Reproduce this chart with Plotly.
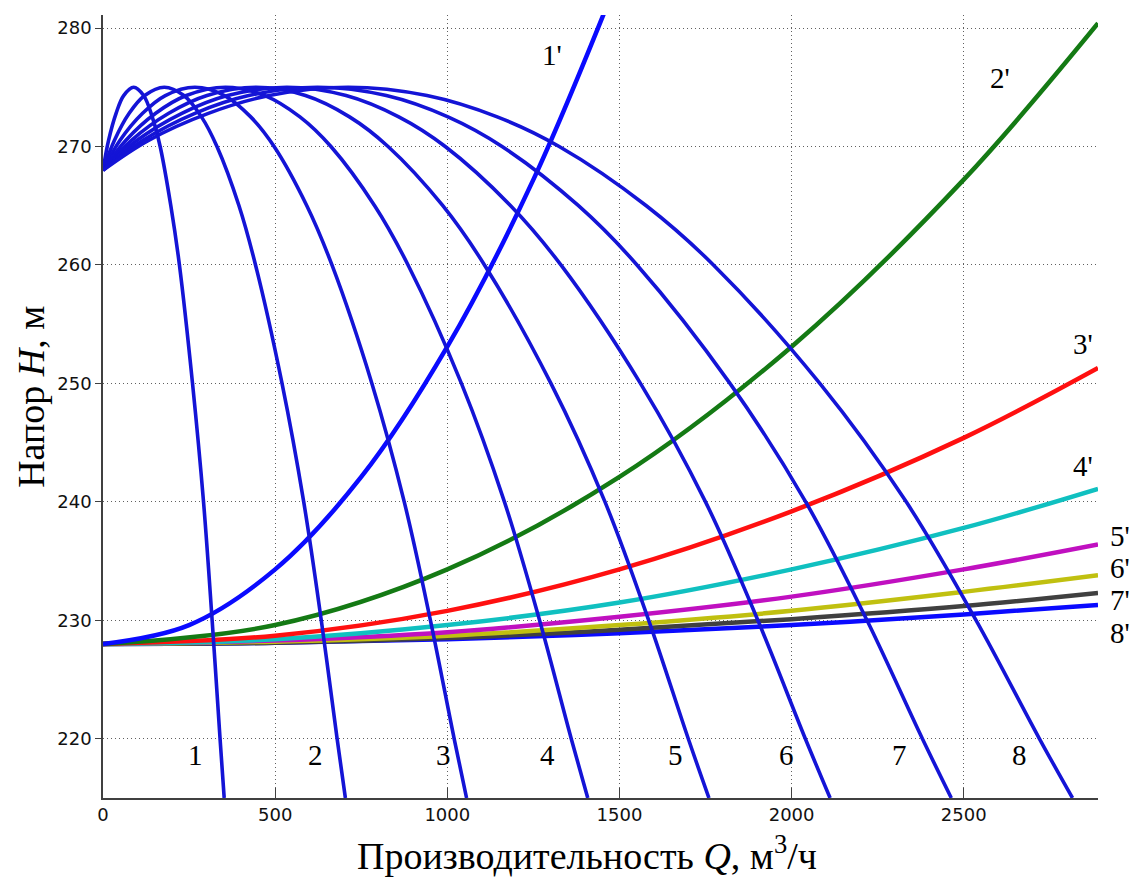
import plotly.graph_objects as go

# ---------------- data ----------------
# pump head curves 1..8 (shared head levels, flow values per curve)
H_pump = [268.0, 270.5, 272.8, 274.3, 275.0, 274.3, 272.5, 270.0, 265.0, 260.0, 250.0, 240.0, 230.0, 220.0, 215.0]
Q_pump_1 = [0, 16, 38, 60, 89, 118, 143, 166, 197, 222, 260, 292, 317, 340, 352]
Q_pump_2 = [0, 33, 76, 121, 178, 235, 286, 331, 395, 443, 520, 583, 634, 680, 704]
Q_pump_3 = [0, 49, 115, 181, 267, 353, 429, 497, 592, 665, 781, 875, 951, 1020, 1056]
Q_pump_4 = [0, 66, 153, 242, 356, 470, 572, 662, 789, 886, 1041, 1166, 1268, 1360, 1408]
Q_pump_5 = [0, 82, 191, 302, 445, 588, 716, 828, 987, 1108, 1301, 1458, 1585, 1700, 1760]
Q_pump_6 = [0, 98, 229, 362, 534, 706, 859, 994, 1184, 1330, 1561, 1750, 1902, 2040, 2112]
Q_pump_7 = [0, 115, 267, 423, 623, 823, 1002, 1159, 1381, 1551, 1821, 2041, 2219, 2380, 2464]
Q_pump_8 = [0, 131, 306, 483, 712, 941, 1145, 1325, 1578, 1773, 2082, 2333, 2536, 2720, 2816]
pump_labels = ["1", "2", "3", "4", "5", "6", "7", "8"]
pump_label_Q = [268, 617, 989, 1290, 1662, 1986, 2313, 2662]
pump_label_H = 218.65

# system (network) curves 1'..8'
Q_sys_1 = [0, 250, 500, 750, 1000, 1250, 1500]
H_sys_1 = [228.0, 229.6, 234.3, 242.1, 253.1, 267.2, 284.5]
Q_sys = [0, 500, 1000, 1500, 2000, 2500, 2890]
H_sys_2 = [228.0, 229.6, 234.3, 242.1, 253.1, 267.2, 280.4]
H_sys_3 = [228.0, 228.7, 230.8, 234.3, 239.2, 245.4, 251.3]
H_sys_4 = [228.0, 228.4, 229.6, 231.5, 234.3, 237.8, 241.1]
H_sys_5 = [228.0, 228.3, 229.0, 230.3, 232.0, 234.3, 236.4]
H_sys_6 = [228.0, 228.2, 228.7, 229.6, 230.8, 232.4, 233.8]
H_sys_7 = [228.0, 228.1, 228.5, 229.2, 230.1, 231.2, 232.3]
H_sys_8 = [228.0, 228.1, 228.4, 228.9, 229.6, 230.5, 231.3]
sys_labels = ["1'", "2'", "3'", "4'", "5'", "6'", "7'", "8'"]
sys_label_Q = [1304, 2606, 2846, 2846, 2955, 2955, 2955, 2955]
sys_label_H = [277.75, 275.8, 253.3, 243.0, 237.1, 234.4, 231.7, 228.9]

x_ticks = [0, 500, 1000, 1500, 2000, 2500]
y_ticks = [220, 230, 240, 250, 260, 270, 280]
x_range = [0, 2890]
y_range = [215, 281.1]

# ---------------- figure ----------------
fig = go.Figure()

sys_colors = ["#0a0aff", "#147a14", "#ff1010", "#10c0c0", "#c010c0", "#c0c010", "#404040", "#0a0aff"]
sys_series = [(Q_sys_1, H_sys_1)] + [(Q_sys, h) for h in
              [H_sys_2, H_sys_3, H_sys_4, H_sys_5, H_sys_6, H_sys_7, H_sys_8]]

# draw from 8' up to 1'
for i in reversed(range(8)):
    q, h = sys_series[i]
    fig.add_trace(go.Scatter(x=q, y=h, mode="lines",
                             line=dict(color=sys_colors[i], width=4.5, shape="spline"),
                             hoverinfo="skip"))

pump_Q = [Q_pump_1, Q_pump_2, Q_pump_3, Q_pump_4, Q_pump_5, Q_pump_6, Q_pump_7, Q_pump_8]
for q in pump_Q:
    fig.add_trace(go.Scatter(x=q, y=H_pump, mode="lines",
                             line=dict(color="#1414d6", width=3.6, shape="spline"),
                             hoverinfo="skip"))

serif = "Liberation Serif, Times New Roman, serif"
label_font = dict(family=serif, size=29, color="black")
x_span = x_range[1] - x_range[0]
y_span = y_range[1] - y_range[0]

annotations = []
for lab, qx in zip(pump_labels, pump_label_Q):
    annotations.append(dict(x=qx, y=pump_label_H, xref="x", yref="y", text=lab,
                            xanchor="center", yanchor="middle",
                            showarrow=False, font=label_font))
# primed labels: placed in paper space so the ones right of the axis end stay visible
for lab, qx, hy in zip(sys_labels, sys_label_Q, sys_label_H):
    annotations.append(dict(x=(qx - x_range[0]) / x_span, y=(hy - y_range[0]) / y_span,
                            xref="paper", yref="paper", text=lab,
                            xanchor="center", yanchor="middle",
                            showarrow=False, font=label_font))

annotations.append(dict(x=(587 - 103) / 995.0, y=-0.0698, xref="paper", yref="paper",
                        xanchor="center", yanchor="middle", showarrow=False,
                        text="Производительность <i>Q</i>, м<sup>3</sup>/ч",
                        font=dict(family=serif, size=38, color="black")))
annotations.append(dict(x=(31 - 103) / 995.0, y=(798.3 - 397) / 783.3, xref="paper", yref="paper",
                        xanchor="center", yanchor="middle", showarrow=False, textangle=-90,
                        text="Напор <i>H</i>, м",
                        font=dict(family=serif, size=38, color="black")))

axis_common = dict(showline=True, linecolor="#404040", linewidth=1.5,
                   showgrid=True, gridcolor="#606060", gridwidth=1, griddash="1px,3px",
                   zeroline=False, tickcolor="#404040", tickwidth=1.2,
                   tickfont=dict(family="DejaVu Sans, Arial, sans-serif", size=18, color="#111111"),
                   mirror=False)

fig.update_layout(
    width=1138, height=881,
    margin=dict(l=103, r=40, t=15, b=83),
    plot_bgcolor="white", paper_bgcolor="white",
    showlegend=False,
    xaxis=dict(range=x_range, tickvals=x_ticks, ticks="inside", ticklen=10, **axis_common),
    yaxis=dict(range=y_range, tickvals=y_ticks, ticks="outside", ticklen=6, **axis_common),
    annotations=annotations,
)

fig.write_html("out.html")
